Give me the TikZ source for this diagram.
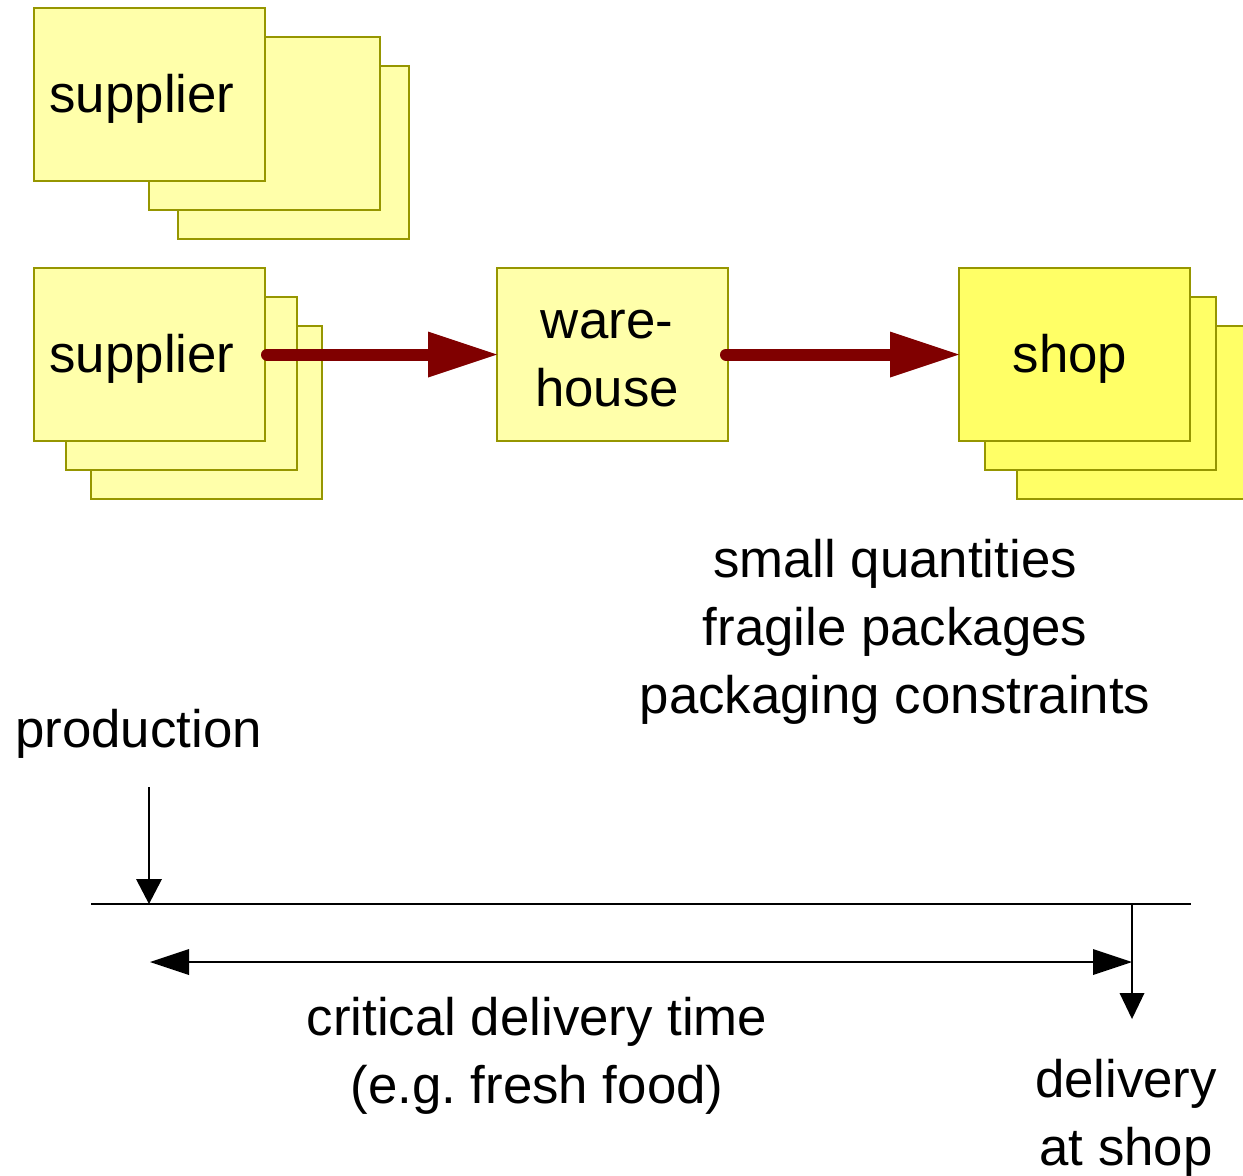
\documentclass[tikz,border=0pt]{standalone}
\usepackage{fontspec}
\setmainfont{Liberation Sans}
\usetikzlibrary{arrows.meta}
\definecolor{boxfill}{RGB}{255,255,170}
\definecolor{shopfill}{RGB}{255,255,102}
\definecolor{boxline}{RGB}{150,150,0}
\definecolor{flowred}{RGB}{128,0,0}
\tikzset{
  card/.style={draw=boxline, line width=1pt, fill=boxfill, minimum width=115.5pt,
    minimum height=86.5pt, inner sep=0pt, outer sep=0pt, anchor=north west},
  shopcard/.style={card, fill=shopfill},
  lbl/.style={font=\fontsize{26.4}{34}\selectfont, inner sep=0pt, outer sep=0pt, anchor=base},
  flow/.style={draw=flowred, line width=6pt, line cap=round,
    -{Triangle[length=34.5pt,width=23pt,line width=0pt]}},
  thinline/.style={line width=0.75pt, draw=black},
}
\begin{document}
\begin{tikzpicture}[x=0.5pt, y=-0.5pt]
\useasboundingbox (0,0) rectangle (1243,1175);
% top supplier stack
\node[card] (supAc) at (178,66) {};
\node[card] (supAb) at (149,37) {};
\node[card] (supAa) at (34,8) {};
\node[lbl] (supAt) at (142,112) {supplier};
% middle supplier stack
\node[card] (supBc) at (91,326) {};
\node[card] (supBb) at (66,297) {};
\node[card] (supB) at (34,268) {};
\node[lbl] (supBt) at (142,372) {supplier};
% warehouse
\node[card] (wh) at (497,268) {};
\node[lbl] (wht) at (607,338) {\begin{tabular}[t]{@{}c@{}}ware-\\house\end{tabular}};
% shop stack
\node[shopcard] (shopc) at (1017,326) {};
\node[shopcard] (shopb) at (985,297) {};
\node[shopcard] (shop) at (959,268) {};
\node[lbl] (shopt) at (1070,372) {shop};
% flows
\draw[flow] ([xshift=1pt]supB.east) -- (wh.west);
\draw[flow] ([xshift=-1pt]wh.east) -- (shop.west);
% notes
\node[lbl] (notes) at (895,577) {\begin{tabular}[t]{@{}c@{}}small quantities\\fragile packages\\packaging constraints\end{tabular}};
\node[lbl] (prod) at (138.5,747) {production};
% timeline
\coordinate (tlL) at (91,904);
\coordinate (tlR) at (1191,904);
\draw[thinline] (tlL) -- (tlR);
\coordinate (prodA) at (149,787);
\coordinate (prodB) at (149,904);
\draw[thinline, -{Triangle[length=12.5pt,width=13pt,line width=0pt]}] (prodA) -- (prodB);
\coordinate (spanA) at (150,962);
\coordinate (spanB) at (1132,962);
\draw[thinline, {Triangle[length=19.5pt,width=13pt,line width=0pt]}-{Triangle[length=19.5pt,width=13pt,line width=0pt]}] (spanA) -- (spanB);
\coordinate (delA) at (1132,904);
\coordinate (delB) at (1132,1019);
\draw[thinline, -{Triangle[length=13pt,width=12.5pt,line width=0pt]}] (delA) -- (delB);
\node[lbl] (crit) at (537,1035) {\begin{tabular}[t]{@{}c@{}}critical delivery time\\(e.g.\ fresh food)\end{tabular}};
\node[lbl] (deliv) at (1126,1097) {\begin{tabular}[t]{@{}c@{}}delivery\\at shop\end{tabular}};
\end{tikzpicture}
\end{document}
